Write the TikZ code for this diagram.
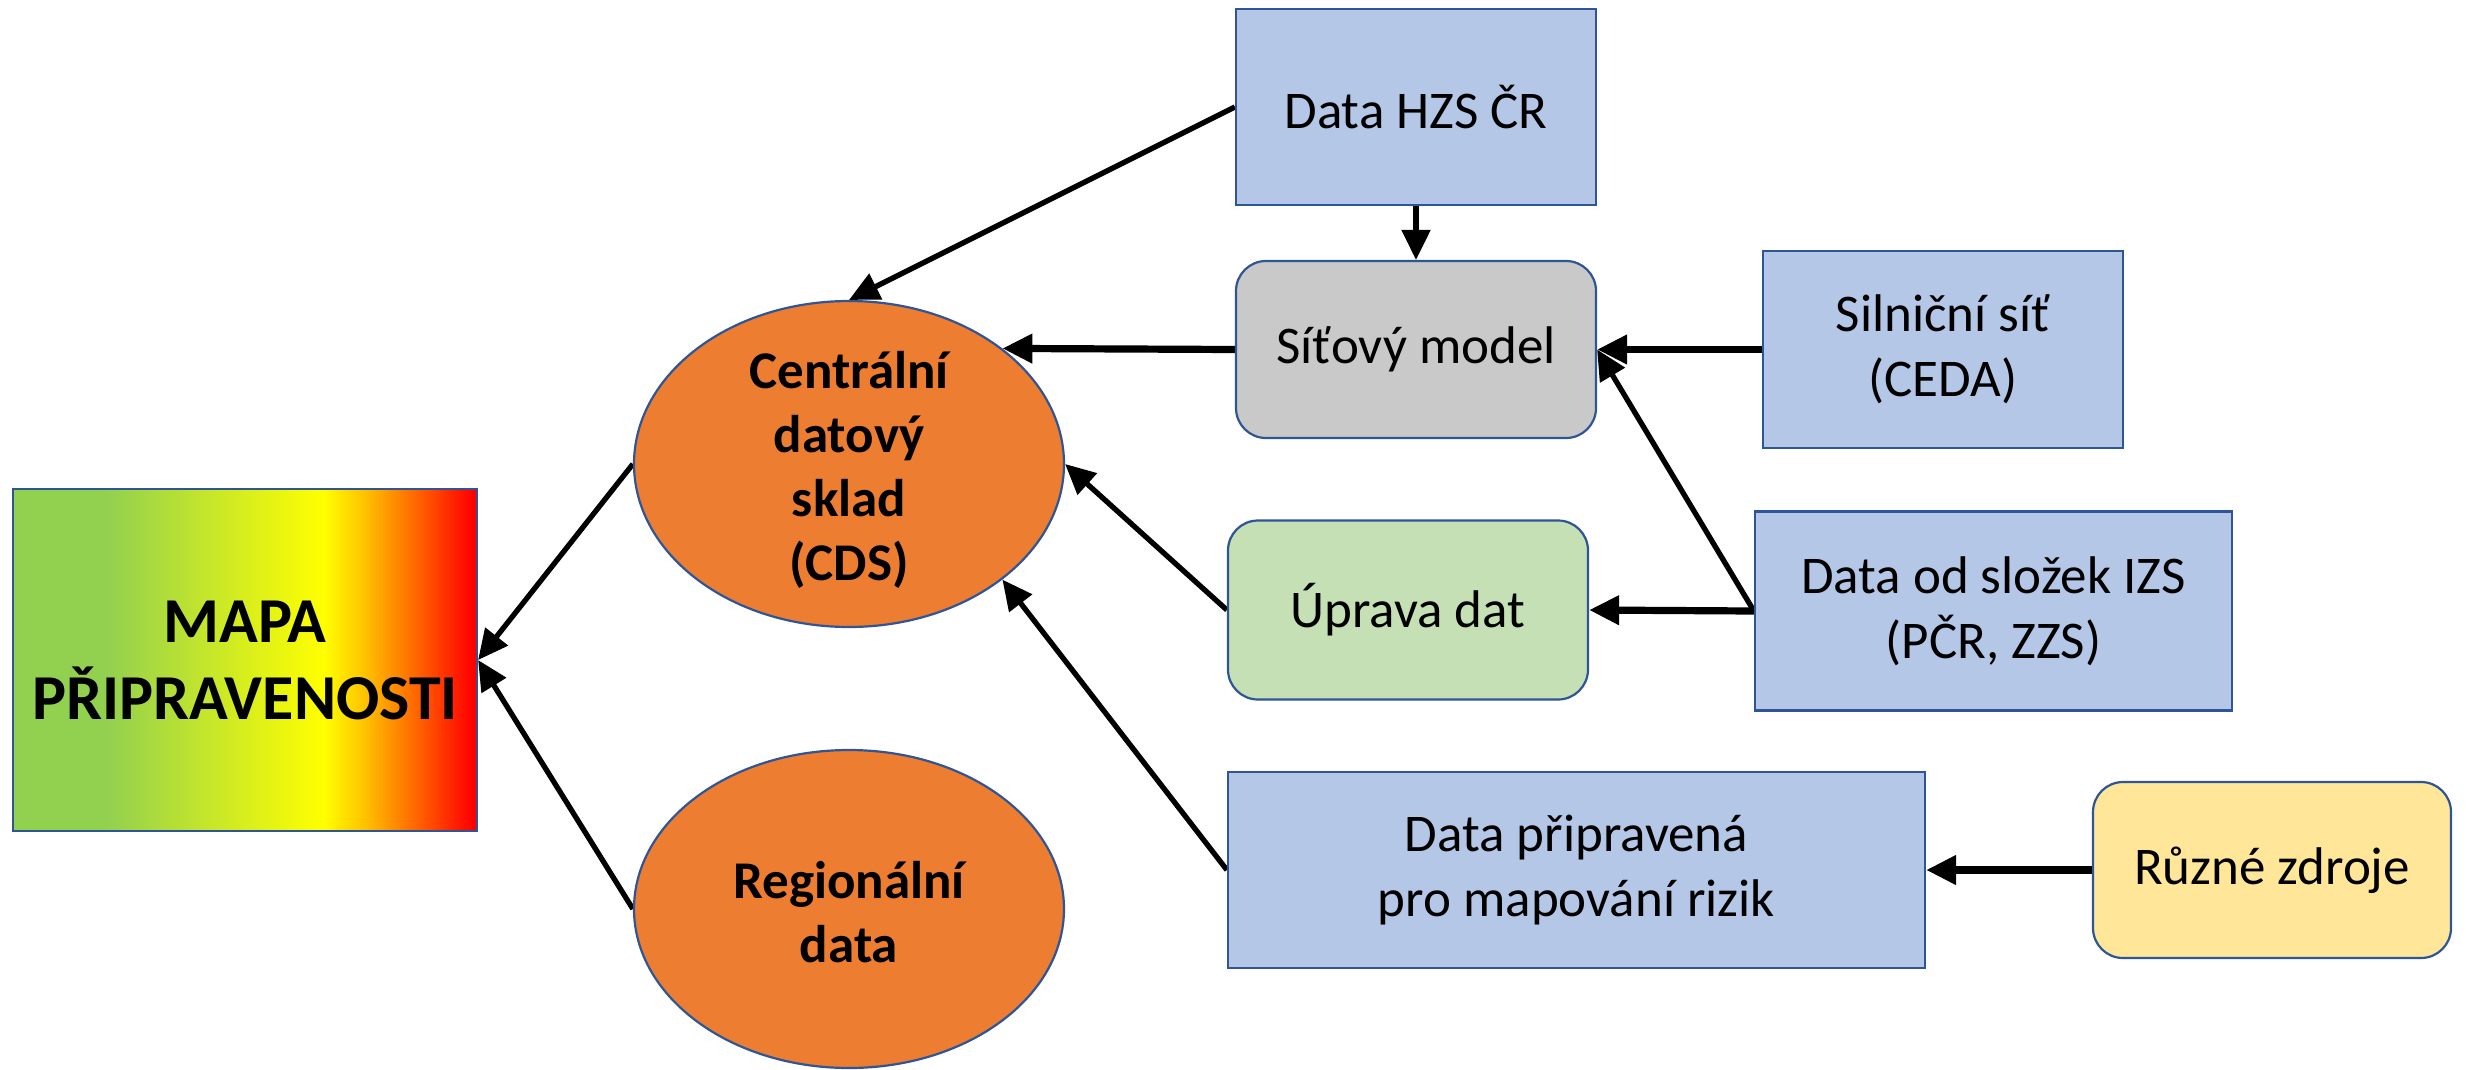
\documentclass[tikz,border=0pt]{standalone}
\usepackage{fontspec}
\setmainfont{Carlito}
\usetikzlibrary{arrows.meta,shapes.geometric,backgrounds}
\definecolor{boxblue}{HTML}{B4C7E7}
\definecolor{edgeblue}{HTML}{2F5597}
\definecolor{boxgray}{HTML}{C9C9C9}
\definecolor{boxgreen}{HTML}{C5E0B4}
\definecolor{boxyellow}{HTML}{FFE699}
\definecolor{cdsorange}{HTML}{ED7D31}
\definecolor{mapgreen}{HTML}{92D050}
\definecolor{mapyellow}{HTML}{FFFF00}
\definecolor{maporange}{HTML}{FFC000}
\definecolor{mapred}{HTML}{FF0000}
\pgfdeclarehorizontalshading{mapashade}{100bp}{color(0bp)=(mapgreen); color(35bp)=(mapgreen); color(58.5bp)=(mapyellow); color(63bp)=(maporange); color(74.5bp)=(mapred); color(100bp)=(mapred)}
\tikzset{
  base/.style={draw=edgeblue, line width=2.2pt, inner sep=0pt, align=center, font=\fontsize{53}{65}\selectfont},
  bluebox/.style={base, fill=boxblue},
  roundbox/.style={base, rounded corners=30pt},
  oval/.style={ellipse, draw=edgeblue, line width=2.2pt, fill=cdsorange, inner sep=0pt, minimum width=430pt},
  ovaltext/.style={font=\bfseries\fontsize{53}{64}\selectfont, align=center, inner sep=0pt},
  thinarr/.style={-{Triangle[length=30pt,width=28pt]}, line width=5.3pt},
  thickarr/.style={-{Triangle[length=30pt,width=28pt]}, line width=7.2pt}
}
\begin{document}
\begin{tikzpicture}[x=1pt,y=-1pt]
\useasboundingbox (0,0) rectangle (2466,1069);
% map
\node[draw=edgeblue, line width=2.2pt, shading=mapashade, minimum width=464pt, minimum height=342pt, inner sep=0pt, align=center,
      font=\bfseries\fontsize{64}{77}\selectfont] (mapa) at (245,660) {MAPA\\PŘIPRAVENOSTI};
% ellipses
\node[oval, minimum height=326pt] (cds) at (849,464) {};
\node[ovaltext] (cdst) at (849,470) {Centrální\\datový\\sklad\\(CDS)};
\node[oval, minimum height=318pt] (reg) at (849,909) {};
\node[ovaltext] (regt) at (849,912) {Regionální\\data};
% boxes
\node[bluebox, minimum width=360pt, minimum height=196pt] (hzs) at (1416,107) {Data HZS ČR};
\node[roundbox, fill=boxgray, minimum width=360pt, minimum height=177pt] (sit) at (1416,349.5) {Síťový model};
\node[bluebox, minimum width=360pt, minimum height=197pt] (sil) at (1943,349.5) {Silniční síť\\(CEDA)};
\node[roundbox, fill=boxgreen, minimum width=360pt, minimum height=179pt] (upr) at (1408,610) {Úprava dat};
\node[bluebox, minimum width=477pt, minimum height=199pt] (izs) at (1993.5,611) {Data od složek IZS\\(PČR, ZZS)};
\node[bluebox, minimum width=697pt, minimum height=196pt] (dpr) at (1576.5,870) {Data připravená\\pro mapování rizik};
\node[roundbox, fill=boxyellow, minimum width=358pt, minimum height=176pt] (rz) at (2272,870) {Různé zdroje};
% connectors
\begin{scope}[on background layer]
\draw[thinarr] (hzs.west) -- (cds.north);
\draw[thinarr] (hzs.south) -- (sit.north);
\draw[thickarr] (sit.west) -- (cds.37.1);
\draw[thickarr] (sil.west) -- (sit.east);
\draw[thinarr] (izs.west) -- (sit.east);
\draw[thickarr] (izs.west) -- (upr.east);
\draw[thinarr] (upr.west) -- (cds.east);
\draw[thinarr] (dpr.west) -- (cds.-37.8);
\draw[thickarr] (rz.west) -- (dpr.east);
\draw[thinarr] (cds.west) -- (mapa.east);
\draw[thinarr] (reg.west) -- (mapa.east);
\end{scope}
\end{tikzpicture}
\end{document}
